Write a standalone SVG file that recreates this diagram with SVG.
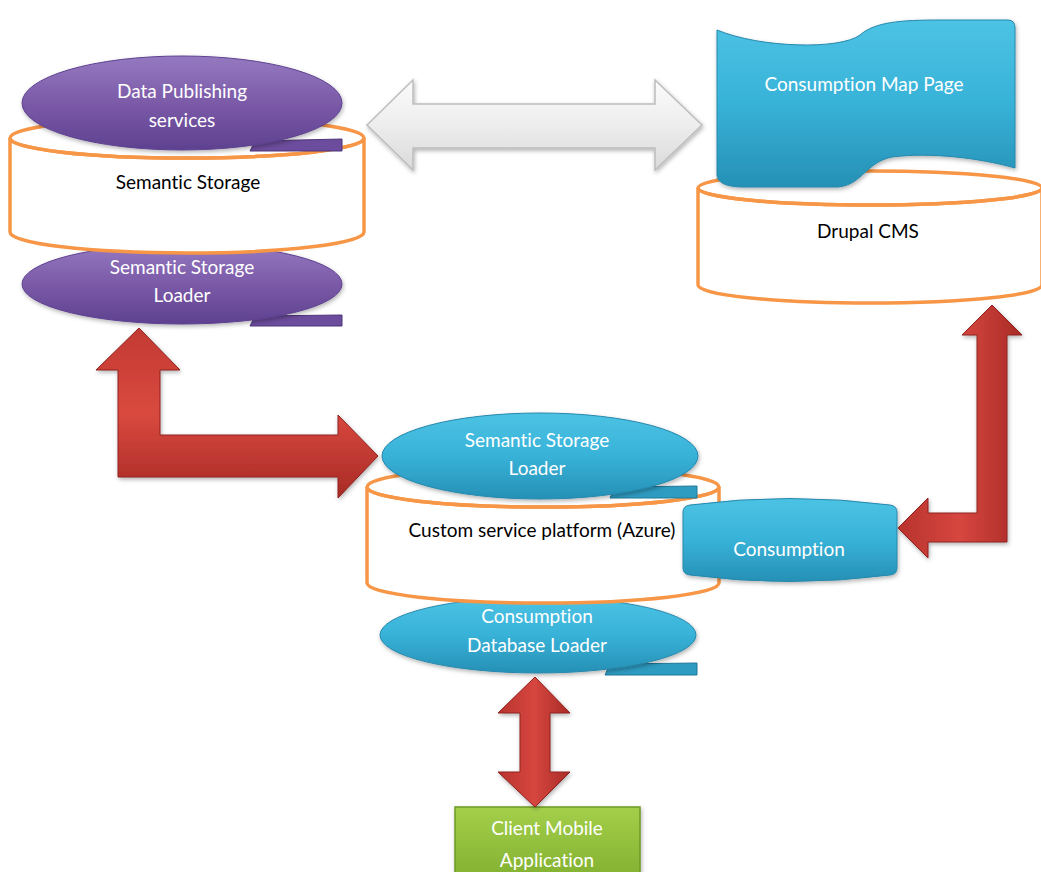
<svg xmlns="http://www.w3.org/2000/svg" width="1041" height="872" viewBox="0 0 1041 872">
<defs>
<linearGradient id="gPurple" x1="0" y1="0" x2="0" y2="1"><stop offset="0" stop-color="#9479C0"/><stop offset="0.5" stop-color="#7B5AA8"/><stop offset="1" stop-color="#5E4190"/></linearGradient>
<linearGradient id="gCyan" x1="0" y1="0" x2="0" y2="1"><stop offset="0" stop-color="#4CC3E4"/><stop offset="0.5" stop-color="#38B2D8"/><stop offset="1" stop-color="#2690B5"/></linearGradient>
<linearGradient id="gRedV" x1="0" y1="0" x2="1" y2="0"><stop offset="0" stop-color="#B8332D"/><stop offset="0.5" stop-color="#D6463F"/><stop offset="1" stop-color="#A92B26"/></linearGradient>
<linearGradient id="gRedH" x1="0" y1="0" x2="0" y2="1"><stop offset="0" stop-color="#C23A33"/><stop offset="0.5" stop-color="#D9493F"/><stop offset="1" stop-color="#A82A25"/></linearGradient>
<linearGradient id="gWhite" x1="0" y1="0" x2="0" y2="1"><stop offset="0" stop-color="#FBFBFB"/><stop offset="0.5" stop-color="#EDEDED"/><stop offset="1" stop-color="#DADADA"/></linearGradient>
<linearGradient id="gGreen" x1="0" y1="0" x2="0" y2="1"><stop offset="0" stop-color="#A3CF4A"/><stop offset="1" stop-color="#7FAD2E"/></linearGradient>
<filter id="shadow" x="-10%" y="-10%" width="130%" height="130%"><feDropShadow dx="1" dy="2" stdDeviation="2" flood-color="#000" flood-opacity="0.3"/></filter>
</defs>
<style>
.can{fill:#fff;stroke:#F79646;stroke-width:3.5}
.canTop{fill:none;stroke:#F79646;stroke-width:3.5}
.purple{fill:url(#gPurple);stroke:#5E4190;stroke-width:1}
.purpleTail{fill:#6C4C9C;stroke:#4F357A;stroke-width:1}
.cyan{fill:url(#gCyan);stroke:#2688AC;stroke-width:1}
.cyanTail{fill:#2E9BC1;stroke:#1F7898;stroke-width:1}
.lw{font-family:Lato,"Open Sans","Liberation Sans",sans-serif;font-size:19px;fill:#fff;text-anchor:middle;font-variant-ligatures:none}
.lb{font-family:Lato,"Open Sans","Liberation Sans",sans-serif;font-size:19px;fill:#000;text-anchor:middle;font-variant-ligatures:none}
.redv{fill:url(#gRedV);stroke:#8E221E;stroke-width:1;filter:url(#shadow)}
.redh{fill:url(#gRedH);stroke:#8E221E;stroke-width:1;filter:url(#shadow)}
</style>

<g id="semantic-storage-loader-1">
<path class="purpleTail" d="M255,316 L342,315 L342,326 L250,326 Z"/>
<ellipse class="purple" cx="182" cy="284" rx="160" ry="40" filter="url(#shadow)"/>
<text class="lw" x="182" y="274">Semantic Storage</text>
<text class="lw" x="182" y="302">Loader</text>
</g>

<g id="semantic-storage">
<path class="can" d="M10,138 L10,232 A177,21 0 0 0 364,232 L364,138 A177,20 0 0 1 10,138 Z"/>
<ellipse class="canTop" cx="187" cy="138" rx="177" ry="20"/>
<text class="lb" x="188" y="189">Semantic Storage</text>
</g>

<g id="data-publishing-services">
<path class="purpleTail" d="M255,141 L342,139 L342,151 L250,151 Z"/>
<ellipse class="purple" cx="182" cy="103" rx="160" ry="47" filter="url(#shadow)"/>
<text class="lw" x="182" y="98">Data Publishing</text>
<text class="lw" x="182" y="127">services</text>
</g>

<g id="drupal-cms">
<path class="can" d="M698,188 L698,285 A172,18 0 0 0 1042,285 L1042,188 A172,17 0 0 1 698,188 Z"/>
<ellipse class="canTop" cx="870" cy="188" rx="172" ry="17"/>
<text class="lb" x="868" y="238">Drupal CMS</text>
</g>

<g id="consumption-map-page">
<path fill="url(#gCyan)" stroke="#2688AC" stroke-width="1" filter="url(#shadow)" d="M717,30 C760,48 840,50 860,35 C875,22 900,20 940,20 L1008,20 Q1015,20 1015,28 L1015,168 C980,158 930,152 892,157 C866,162 862,185 838,187 L742,187 C726,187 717,182 717,175 Z"/>
<text class="lw" x="864" y="91">Consumption Map Page</text>
</g>

<g id="consumption-database-loader">
<path class="cyanTail" d="M610,664 L697,663 L697,675 L605,675 Z"/>
<ellipse class="cyan" cx="538" cy="635" rx="158" ry="38" filter="url(#shadow)"/>
<text class="lw" x="537" y="623">Consumption</text>
<text class="lw" x="537" y="652">Database Loader</text>
</g>

<g id="custom-service-platform">
<path class="can" d="M367,487 L367,583 A176,20 0 0 0 719,583 L719,487 A176,20 0 0 1 367,487 Z"/>
<ellipse class="canTop" cx="543" cy="487" rx="176" ry="20"/>
<text class="lb" x="542" y="537">Custom service platform (Azure)</text>
</g>

<g id="semantic-storage-loader-2">
<path class="cyanTail" d="M615,487 L697,486 L697,498 L610,498 Z"/>
<ellipse class="cyan" cx="540" cy="456" rx="158" ry="43" filter="url(#shadow)"/>
<text class="lw" x="537" y="447">Semantic Storage</text>
<text class="lw" x="537" y="475">Loader</text>
</g>

<g id="consumption">
<path fill="url(#gCyan)" stroke="#2688AC" stroke-width="1" filter="url(#shadow)" d="M683,512 Q683,506 690,505 Q790,492 890,505 Q897,506 897,512 L897,568 Q897,574 890,575 Q790,588 690,575 Q683,574 683,568 Z"/>
<text class="lw" x="789" y="556">Consumption</text>
</g>

<g id="client-mobile-application">
<rect x="455" y="807" width="185" height="80" fill="url(#gGreen)" stroke="#6E9A25" stroke-width="1.5" filter="url(#shadow)"/>
<text class="lw" x="547" y="835">Client Mobile</text>
<text class="lw" x="547" y="867">Application</text>
</g>

<g id="connectors">
<path fill="url(#gWhite)" stroke="#BDBDBD" stroke-width="1.5" filter="url(#shadow)" d="M367,125 L413,80 L413,104 L655,104 L655,80 L702,125 L655,170 L655,148 L413,148 L413,170 Z"/>
<path class="redh" d="M139,328 L180,370 L160,370 L160,435 L338,435 L338,415 L378,456 L338,498 L338,477 L118,477 L118,370 L96,370 Z"/>
<path class="redv" d="M992,305 L1022,335 L1007,335 L1007,542 L928,542 L928,558 L898,528 L928,498 L928,513 L977,513 L977,335 L962,335 Z"/>
<path class="redv" d="M535,677 L570,713 L550,713 L550,772 L570,772 L535,807 L498,772 L520,772 L520,713 L498,713 Z"/>
</g>
</svg>
